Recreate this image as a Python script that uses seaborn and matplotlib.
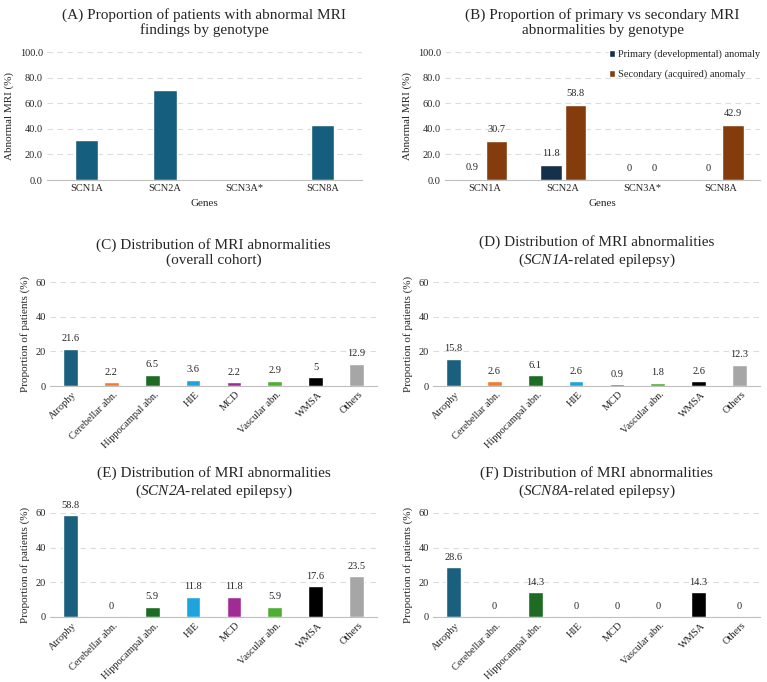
import pandas as pd
import matplotlib
matplotlib.use('Agg')
import matplotlib.pyplot as plt
import matplotlib.transforms as mtrans
import seaborn as sns
import numpy as np

genes = ['SCN1A', 'SCN2A', 'SCN3A*', 'SCN8A']
abnormal = [31.6, 70.6, 0, 42.9]
primary = [0.9, 11.8, 0, 0]
secondary = [30.7, 58.8, 0, 42.9]

cats = ['Atrophy', 'Cerebellar abn.', 'Hippocampal abn.', 'HIE', 'MCD',
        'Vascular abn.', 'WMSA', 'Others']
overall = [21.6, 2.2, 6.5, 3.6, 2.2, 2.9, 5, 12.9]
scn1a = [15.8, 2.6, 6.1, 2.6, 0.9, 1.8, 2.6, 12.3]
scn2a = [58.8, 0, 5.9, 11.8, 11.8, 5.9, 17.6, 23.5]
scn8a = [28.6, 0, 14.3, 0, 0, 0, 14.3, 0]

cat_colors = ['#1b5f7e', '#ed7d31', '#1e6b24', '#1ea4dc', '#a02b93',
              '#4ead32', '#000000', '#a6a6a6']

sns.set_style('white')
plt.rcParams['font.family'] = ['Liberation Serif', 'DejaVu Serif']
# math text is only used for the italic gene names in the titles
plt.rcParams['mathtext.fontset'] = 'custom'
plt.rcParams['mathtext.rm'] = 'Liberation Serif:italic'
plt.rcParams['mathtext.it'] = 'Liberation Serif:italic'

W, H = 767, 682
fig = plt.figure(figsize=(W/100, H/100), dpi=100)

def box(l, r, t, b):
    return [l/W, 1-b/H, (r-l)/W, (b-t)/H]

def style(ax, ymax, step, fmt):
    ax.set_ylim(0, ymax)
    ax.set_yticks(np.arange(0, ymax+0.1, step))
    ax.set_yticklabels([fmt % v for v in np.arange(0, ymax+0.1, step)])
    ax.yaxis.grid(True, linestyle=(0, (5, 4)), color='#dcdcdc', linewidth=0.8)
    ax.set_axisbelow(True)
    for s in ['top', 'right', 'left']:
        ax.spines[s].set_visible(False)
    ax.spines['bottom'].set_color('#bfbfbf')
    ax.tick_params(axis='both', length=0, labelsize=7.5, pad=3)

tsize = 11

# (A)
axA = fig.add_axes(box(47, 362, 52, 180))
dfA = pd.DataFrame({'Gene': genes, 'Abnormal': abnormal})
sns.barplot(data=dfA, x='Gene', y='Abnormal', color='#165e7d', saturation=1,
            width=0.3, ax=axA)
style(axA, 100, 20, '%.1f')
axA.set_xlim(-0.5, 3.5)
axA.set_xlabel('Genes', fontsize=8)
axA.set_ylabel('Abnormal MRI (%)', fontsize=8)
axA.set_title('(A) Proportion of patients with abnormal MRI\nfindings by genotype',
              fontsize=tsize, pad=13, linespacing=1.15)

# (B)
axB = fig.add_axes(box(445, 760, 52, 180))
dfB = pd.DataFrame({
    'Gene': genes * 2,
    'Value': primary + secondary,
    'Type': ['Primary (developmental) anomaly'] * 4 + ['Secondary (acquired) anomaly'] * 4,
})
sns.barplot(data=dfB, x='Gene', y='Value', hue='Type',
            palette=['#14304a', '#843c0c'], saturation=1, width=0.62, gap=0.12, ax=axB)
style(axB, 100, 20, '%.1f')
axB.set_xlim(-0.5, 3.5)
for c in axB.containers:
    axB.bar_label(c, fmt='{:g}', fontsize=7.5, padding=5)
axB.set_xlabel('Genes', fontsize=8)
axB.set_ylabel('Abnormal MRI (%)', fontsize=8)
axB.set_title('(B) Proportion of primary vs secondary MRI\nabnormalities by genotype',
              fontsize=tsize, pad=13, linespacing=1.15)
leg = axB.legend(loc='upper right', bbox_to_anchor=(1.03, 1.09), frameon=False,
                 fontsize=7.5, handlelength=0.6, handleheight=0.6, handletextpad=0.3,
                 labelspacing=1.0)

# (C)-(F)
panels = [
    ('(C) Distribution of MRI abnormalities\n(overall cohort)', overall, (50, 377, 282, 386)),
    ('(D) Distribution of MRI abnormalities\n($SCN1A$-related epilepsy)', scn1a, (433, 760, 282, 386)),
    ('(E) Distribution of MRI abnormalities\n($SCN2A$-related epilepsy)', scn2a, (50, 377, 513, 617)),
    ('(F) Distribution of MRI abnormalities\n($SCN8A$-related epilepsy)', scn8a, (433, 760, 513, 617)),
]
shift = mtrans.ScaledTranslation(5/100, 0, fig.dpi_scale_trans)
for title, vals, pos in panels:
    ax = fig.add_axes(box(*pos))
    df = pd.DataFrame({'Category': cats, 'Value': vals})
    sns.barplot(data=df, x='Category', y='Value', hue='Category', palette=cat_colors,
                saturation=1, width=0.36, legend=False, ax=ax)
    style(ax, 60, 20, '%d')
    ax.set_xlim(-0.5, 7.5)
    for c in ax.containers:
        ax.bar_label(c, fmt='{:g}', fontsize=7.5, padding=4)
    ax.set_xlabel('')
    ax.set_ylabel('Proportion of patients (%)', fontsize=8)
    ax.set_xticks(range(len(cats)))
    ax.set_xticklabels(cats, rotation=45, ha='right', va='center',
                       rotation_mode='anchor', fontsize=7.5)
    ax.tick_params(axis='x', pad=5)
    for lab in ax.get_xticklabels():
        lab.set_transform(lab.get_transform() + shift)
    ax.set_title(title, fontsize=tsize, pad=13, linespacing=1.2)

fig.savefig('out.png', dpi=100)
